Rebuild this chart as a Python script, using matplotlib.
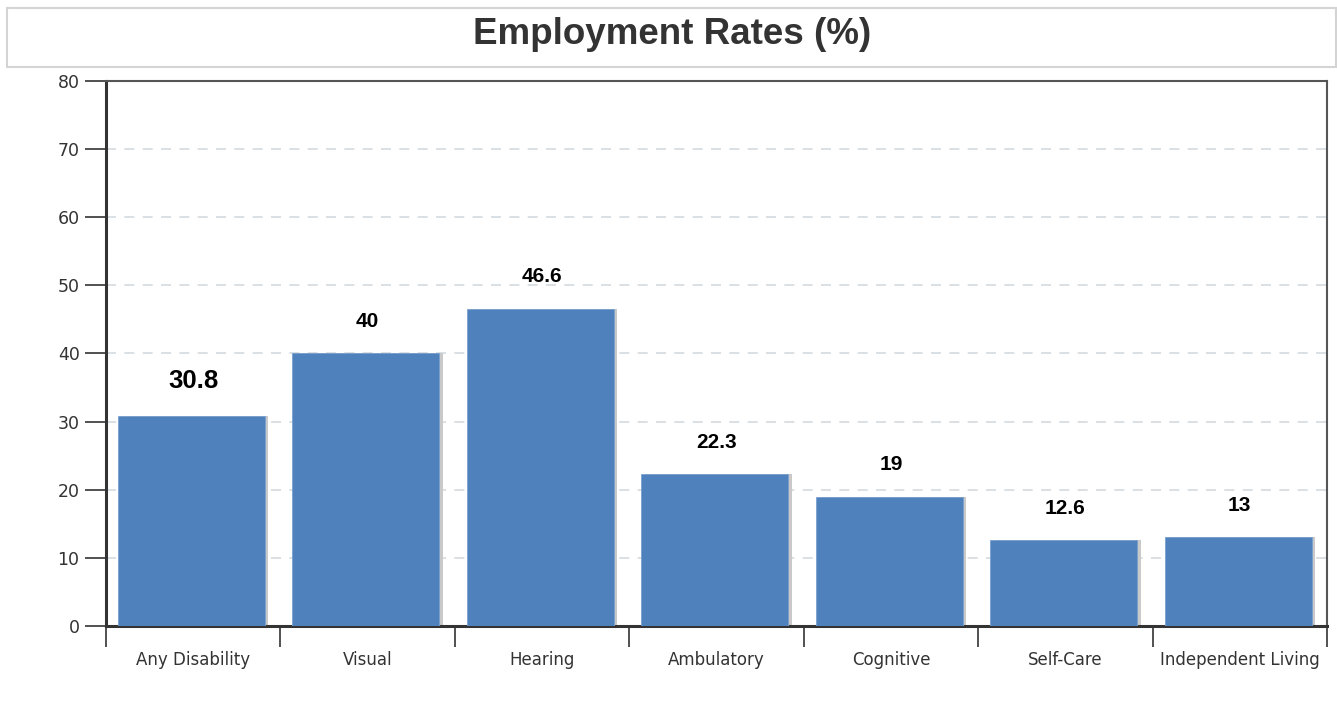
import matplotlib.pyplot as plt
from matplotlib.patches import Rectangle
import numpy as np

categories = ["Any Disability", "Visual", "Hearing", "Ambulatory",
              "Cognitive", "Self-Care", "Independent Living"]
rates = [30.8, 40, 46.6, 22.3, 19, 12.6, 13]
yticks = [0, 10, 20, 30, 40, 50, 60, 70, 80]

bar_color = "#4f81bd"
text_color = "#333333"

plt.rcParams["font.family"] = ["Liberation Sans", "DejaVu Sans"]

fig = plt.figure(figsize=(13.37, 7.17), dpi=100)
ax = fig.add_axes([106 / 1337, 91 / 717, 1221 / 1337, 545 / 717])

# title box across the top
fig.patches.append(Rectangle((7 / 1337, 650 / 717), 1329 / 1337, 59 / 717,
                             transform=fig.transFigure, facecolor="white",
                             edgecolor="#d4d4d4", linewidth=1.5))
fig.text(672.5 / 1337, 682 / 717, "Employment Rates (%)", ha="center", va="center",
         fontsize=26.5, fontweight="bold", color="#333333")

x = np.arange(len(categories))
width = 0.843
# soft shadow to the right of each bar
ax.bar(x - 0.01 + 0.02, rates, width=width, color="#c9c9c9", zorder=2)
ax.bar(x - 0.01, rates, width=width, color=bar_color, edgecolor="#7aa0cf",
       linewidth=0.6, zorder=3)

for i, v in enumerate(rates):
    label = f"{v:g}"
    size = 18.5 if i == 0 else 15
    off = 25 if i == 0 else 23
    ax.annotate(label, (x[i], v), xytext=(0, off), textcoords="offset points",
                ha="center", va="center", fontsize=size, fontweight="bold",
                color="black")

ax.set_xlim(-0.5, len(categories) - 0.5)
ax.set_ylim(0, 80)
ax.set_yticks(yticks)
ax.yaxis.grid(True, linestyle=(0, (6, 5)), color="#d3dadf", linewidth=1.2, zorder=0)
ax.set_axisbelow(True)

# category ticks sit between bars
ax.set_xticks(np.arange(len(categories) + 1) - 0.5)
ax.set_xticklabels([])
ax.set_xticks(x, minor=True)
ax.set_xticklabels(categories, minor=True, family="DejaVu Sans")
ax.tick_params(axis="x", which="major", length=15, width=1.2, color="#333333",
               direction="out")
ax.tick_params(axis="x", which="minor", length=0, pad=18, labelsize=12,
               labelcolor=text_color)
ax.tick_params(axis="y", length=15, width=1.2, color="#333333", pad=4,
               labelsize=12.5, labelcolor=text_color)
for lbl in ax.get_yticklabels():
    lbl.set_family("DejaVu Sans")

ax.spines["left"].set_linewidth(2.2)
ax.spines["left"].set_color("#333333")
ax.spines["bottom"].set_linewidth(2.2)
ax.spines["bottom"].set_color("#333333")
ax.spines["top"].set_color("#555555")
ax.spines["top"].set_linewidth(1.5)
ax.spines["right"].set_color("#555555")
ax.spines["right"].set_linewidth(1.5)

fig.savefig("out.png", dpi=100)
